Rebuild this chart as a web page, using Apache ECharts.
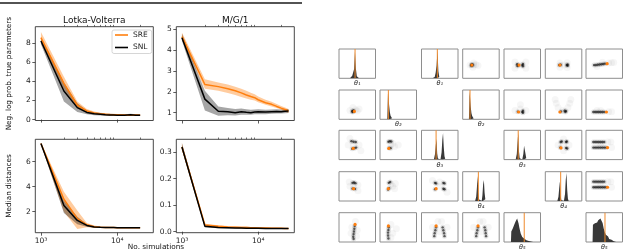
<!DOCTYPE html>
<html><head><meta charset="utf-8">
<script src="https://cdn.jsdelivr.net/npm/echarts@6/dist/echarts.min.js"></script>
<style>html,body{margin:0;padding:0;background:#fff}#c{width:640px;height:252px}</style>
</head><body><div id="c"></div>
<script>
// ---------------- DATA: line panels ----------------
const simsLV = [1000,2000,3000,4000,5000,6000,7000,8000,9000,10000,12500,15000,17500,20000];
const simsMG1 = [1000,2000,3000,4000,5000,6000,7000,8000,9000,10000,12500,15000,17500,20000,22500,25000];

const lvNlpSRE   = [8.6,3.8,1.5,0.9,0.7,0.6,0.55,0.52,0.5,0.5,0.48,0.45,0.48,0.45];
const lvNlpSRElo = [8.1,3.2,1.2,0.72,0.58,0.5,0.45,0.43,0.42,0.42,0.4,0.38,0.4,0.38];
const lvNlpSREhi = [9.2,4.5,1.9,1.1,0.85,0.72,0.65,0.62,0.6,0.58,0.56,0.53,0.56,0.52];
const lvNlpSNL   = [8.25,3.0,1.25,0.75,0.6,0.55,0.5,0.48,0.47,0.45,0.45,0.5,0.45,0.45];
const lvNlpSNLlo = [7.9,1.9,0.8,0.55,0.45,0.42,0.4,0.38,0.38,0.37,0.36,0.38,0.37,0.36];
const lvNlpSNLhi = [8.6,3.9,1.7,0.95,0.75,0.68,0.62,0.6,0.58,0.56,0.56,0.6,0.56,0.55];

const mgNlpSRE   = [4.65,2.35,2.25,2.15,2.05,1.95,1.85,1.78,1.72,1.62,1.48,1.4,1.3,1.22,1.15,1.08];
const mgNlpSRElo = [4.5,2.15,2.05,1.95,1.85,1.75,1.68,1.62,1.58,1.5,1.38,1.3,1.22,1.14,1.05,0.98];
const mgNlpSREhi = [4.85,2.6,2.45,2.35,2.25,2.15,2.05,1.96,1.88,1.78,1.62,1.52,1.42,1.32,1.25,1.18];
const mgNlpSNL   = [4.6,1.65,1.07,1.05,1.0,1.05,1.02,1.0,1.03,1.05,1.03,1.05,1.06,1.05,1.07,1.08];
const mgNlpSNLlo = [4.45,1.1,0.85,0.88,0.86,0.9,0.9,0.9,0.92,0.93,0.93,0.95,0.96,0.96,0.97,0.98];
const mgNlpSNLhi = [4.8,2.05,1.3,1.22,1.18,1.2,1.16,1.14,1.15,1.16,1.14,1.15,1.16,1.15,1.17,1.18];

const lvMedSRE   = [7.45,3.0,1.45,0.95,0.8,0.76,0.74,0.73,0.73,0.72,0.72,0.72,0.72,0.72];
const lvMedSRElo = [7.4,2.0,0.62,0.75,0.72,0.7,0.7,0.69,0.69,0.69,0.69,0.69,0.69,0.69];
const lvMedSREhi = [7.5,3.6,2.1,1.1,0.9,0.82,0.8,0.78,0.77,0.76,0.76,0.75,0.75,0.75];
const lvMedSNL   = [7.45,2.5,1.3,0.9,0.78,0.75,0.74,0.73,0.73,0.72,0.72,0.72,0.72,0.72];
const lvMedSNLlo = [7.4,1.9,1.0,0.8,0.72,0.7,0.7,0.69,0.69,0.69,0.69,0.69,0.69,0.69];
const lvMedSNLhi = [7.5,2.9,1.6,1.0,0.85,0.8,0.78,0.77,0.76,0.75,0.75,0.75,0.75,0.75];

const mgMedSRE   = [0.32,0.025,0.02,0.018,0.017,0.016,0.016,0.015,0.015,0.014,0.014,0.013,0.013,0.013,0.012,0.012];
const mgMedSRElo = [0.31,0.02,0.016,0.015,0.014,0.013,0.013,0.012,0.012,0.011,0.011,0.011,0.011,0.011,0.01,0.01];
const mgMedSREhi = [0.335,0.03,0.024,0.021,0.02,0.019,0.019,0.018,0.018,0.017,0.017,0.016,0.016,0.015,0.014,0.014];
const mgMedSNL   = [0.32,0.02,0.016,0.015,0.014,0.014,0.013,0.013,0.013,0.013,0.012,0.012,0.012,0.012,0.012,0.012];
const mgMedSNLlo = [0.31,0.016,0.013,0.012,0.012,0.011,0.011,0.011,0.011,0.011,0.01,0.01,0.01,0.01,0.01,0.01];
const mgMedSNLhi = [0.335,0.026,0.02,0.018,0.017,0.016,0.016,0.015,0.015,0.015,0.014,0.014,0.014,0.014,0.014,0.014];

const xMajorTicks = [1000,10000];
const xMinorTicks = [2000,3000,4000,5000,6000,7000,8000,9000,20000];
const lvNlpTicks = [0,2,4,6,8];
const mgNlpTicks = [1,2,3,4,5];
const lvMedTicks = [2,4,6];
const mgMedTicks = [0.0,0.1,0.2,0.3];

// ---------------- DATA: posterior matrices (normalised 0..1 coords) ----------------
const histA1 = [[0.3,0],[0.325,0.03],[0.35,0.05],[0.375,0.09],[0.4,0.16],[0.425,0.32],[0.45,0.95],[0.475,0.35],[0.5,0.07],[0.525,0.02],[0.55,0]];
const histB1 = [[0.3,0],[0.325,0.02],[0.35,0.05],[0.375,0.1],[0.4,0.2],[0.425,0.45],[0.45,1.0],[0.475,0.25],[0.5,0.05],[0.525,0]];
const histA2 = [[0.2,0],[0.24,1.0],[0.26,0.5],[0.28,0.25],[0.3,0.13],[0.32,0.07],[0.34,0.04],[0.36,0.02],[0.38,0]];
const histB2 = [[0.17,0],[0.21,1.0],[0.23,0.45],[0.25,0.22],[0.27,0.12],[0.29,0.06],[0.31,0.03],[0.33,0]];
const histA3 = [[0.34,0],[0.36,0.05],[0.38,0.2],[0.4,0.5],[0.42,0.75],[0.44,0.22],[0.46,0.04],[0.48,0],[0.52,0],[0.54,0.05],[0.56,0.25],[0.58,0.7],[0.6,0.95],[0.62,0.45],[0.64,0.12],[0.66,0.03],[0.68,0]];
const histB3 = [[0.32,0],[0.34,0.05],[0.36,0.2],[0.38,0.6],[0.4,0.95],[0.42,0.3],[0.44,0.05],[0.46,0],[0.5,0],[0.52,0.05],[0.54,0.2],[0.56,0.5],[0.58,0.55],[0.6,0.2],[0.62,0.05],[0.64,0]];
const histA4 = [[0.34,0],[0.36,0.04],[0.38,0.15],[0.4,0.5],[0.42,0.9],[0.44,0.3],[0.46,0.05],[0.48,0],[0.51,0],[0.53,0.05],[0.55,0.2],[0.57,0.6],[0.59,0.75],[0.61,0.3],[0.63,0.06],[0.65,0]];
const histB4 = [[0.33,0],[0.35,0.04],[0.37,0.15],[0.39,0.45],[0.41,0.7],[0.43,0.2],[0.45,0.03],[0.47,0],[0.51,0],[0.53,0.05],[0.55,0.25],[0.57,0.75],[0.59,1.0],[0.61,0.4],[0.63,0.08],[0.65,0]];
const histA5 = [[0.19,0],[0.21,0.38],[0.23,0.42],[0.25,0.48],[0.27,0.55],[0.29,0.62],[0.31,0.68],[0.33,0.74],[0.35,0.8],[0.37,0.84],[0.39,0.78],[0.41,0.66],[0.43,0.52],[0.45,0.4],[0.47,0.3],[0.49,0.23],[0.51,0.18],[0.53,0.15],[0.55,0.12],[0.57,0.1],[0.6,0.08],[0.63,0.06],[0.66,0.04],[0.7,0.03],[0.74,0.015],[0.8,0]];
const histB5 = [[0.18,0],[0.2,0.62],[0.23,0.64],[0.26,0.67],[0.29,0.7],[0.32,0.74],[0.35,0.78],[0.38,0.8],[0.41,0.84],[0.44,0.82],[0.47,0.68],[0.5,0.48],[0.53,0.35],[0.56,0.26],[0.59,0.2],[0.62,0.15],[0.65,0.11],[0.68,0.08],[0.72,0.05],[0.76,0.03],[0.8,0.015],[0.85,0]];
const trueA = [0.44,0.23,0.40,0.43,0.555];
const trueB = [0.435,0.20,0.39,0.42,0.52];
const thetaLabels = ['θ₁','θ₂','θ₃','θ₄','θ₅'];

// pair clouds: dark = dense samples, fog = sparse samples, tru = true parameter
const pairR_12_dark=[[0.24,0.46],[0.26,0.44],[0.23,0.44],[0.27,0.47]];
const pairR_12_fog=[[0.3,0.45],[0.36,0.47],[0.42,0.44],[0.3,0.52],[0.28,0.38],[0.2,0.45]];
const pairR_12_tru=[0.25,0.45];
const pairR_13_dark=[[0.36,0.48],[0.37,0.42],[0.39,0.45],[0.5,0.45],[0.52,0.49],[0.52,0.41]];
const pairR_13_fog=[[0.3,0.56],[0.3,0.34],[0.6,0.56],[0.6,0.34],[0.45,0.45]];
const pairR_13_tru=[0.41,0.45];
const pairR_14_dark=[[0.38,0.45],[0.42,0.46],[0.59,0.45],[0.61,0.47],[0.61,0.43]];
const pairR_14_fog=[[0.4,0.52],[0.6,0.53],[0.5,0.45],[0.6,0.37],[0.4,0.38]];
const pairR_14_tru=[0.40,0.45];
const pairR_15_dark=[[0.22,0.45],[0.27,0.45],[0.32,0.46],[0.37,0.47],[0.42,0.48],[0.47,0.49],[0.52,0.5]];
const pairR_15_fog=[[0.62,0.52],[0.7,0.53],[0.76,0.54],[0.3,0.4],[0.45,0.55]];
const pairR_15_tru=[0.58,0.5];
const pairL_21_dark=[[0.36,0.28],[0.39,0.27],[0.4,0.3],[0.37,0.25]];
const pairL_21_fog=[[0.45,0.33],[0.3,0.3],[0.5,0.28],[0.38,0.4],[0.55,0.35]];
const pairL_21_tru=[0.42,0.27];
const pairR_23_dark=[[0.38,0.26],[0.5,0.25],[0.52,0.29],[0.52,0.22]];
const pairR_23_fog=[[0.45,0.35],[0.6,0.3],[0.3,0.3],[0.45,0.5]];
const pairR_23_tru=[0.4,0.25];
const pairR_24_dark=[[0.43,0.27],[0.55,0.25],[0.53,0.29],[0.57,0.28]];
const pairR_24_fog=[[0.35,0.4],[0.3,0.55],[0.62,0.4],[0.67,0.55],[0.48,0.3],[0.27,0.68],[0.7,0.68]];
const pairR_24_tru=[0.4,0.25];
const pairR_25_dark=[[0.2,0.25],[0.25,0.25],[0.3,0.25],[0.35,0.25],[0.4,0.25],[0.45,0.25],[0.5,0.25]];
const pairR_25_fog=[[0.62,0.26],[0.7,0.26],[0.4,0.3],[0.3,0.3]];
const pairR_25_tru=[0.56,0.25];
const pairL_31_dark=[[0.34,0.63],[0.4,0.61],[0.46,0.6],[0.36,0.37],[0.42,0.39],[0.47,0.41]];
const pairL_31_fog=[[0.25,0.5],[0.55,0.5],[0.3,0.72],[0.6,0.3],[0.4,0.5]];
const pairL_31_tru=[0.39,0.38];
const pairL_32_dark=[[0.23,0.61],[0.27,0.63],[0.31,0.62],[0.25,0.4],[0.29,0.39]];
const pairL_32_fog=[[0.35,0.55],[0.4,0.45],[0.5,0.5],[0.3,0.5]];
const pairL_32_tru=[0.24,0.38];
const pairR_34_dark=[[0.42,0.6],[0.45,0.62],[0.57,0.6],[0.59,0.62],[0.57,0.4],[0.6,0.38],[0.41,0.41]];
const pairR_34_fog=[[0.5,0.5],[0.35,0.5],[0.65,0.5],[0.5,0.7],[0.5,0.3]];
const pairR_34_tru=[0.43,0.4];
const pairR_35_dark=[[0.2,0.6],[0.25,0.6],[0.3,0.6],[0.35,0.6],[0.4,0.6],[0.45,0.6],[0.5,0.6],[0.2,0.41],[0.25,0.41],[0.3,0.41],[0.35,0.41],[0.4,0.41],[0.45,0.41],[0.5,0.41],[0.55,0.41]];
const pairR_35_fog=[[0.6,0.6],[0.68,0.6],[0.7,0.41],[0.4,0.5]];
const pairR_35_tru=[0.59,0.41];
const pairL_41_dark=[[0.37,0.62],[0.41,0.63],[0.45,0.61],[0.37,0.42],[0.44,0.41]];
const pairL_41_fog=[[0.4,0.52],[0.3,0.5],[0.52,0.55],[0.28,0.65],[0.52,0.35]];
const pairL_41_tru=[0.4,0.42];
const pairL_42_dark=[[0.24,0.62],[0.28,0.65],[0.25,0.44],[0.22,0.39]];
const pairL_42_fog=[[0.35,0.5],[0.3,0.58],[0.42,0.6],[0.4,0.42]];
const pairL_42_tru=[0.23,0.42];
const pairL_43_dark=[[0.37,0.62],[0.4,0.6],[0.6,0.62],[0.63,0.6],[0.37,0.4],[0.6,0.42],[0.63,0.4]];
const pairL_43_fog=[[0.5,0.5],[0.3,0.7],[0.7,0.3],[0.5,0.65]];
const pairL_43_tru=[0.4,0.42];
const pairR_45_dark=[[0.2,0.66],[0.25,0.66],[0.3,0.66],[0.35,0.66],[0.4,0.66],[0.45,0.66],[0.5,0.66],[0.2,0.47],[0.25,0.47],[0.3,0.47],[0.35,0.47],[0.4,0.47],[0.45,0.47],[0.5,0.47],[0.55,0.47]];
const pairR_45_fog=[[0.6,0.66],[0.68,0.66],[0.7,0.47],[0.4,0.56]];
const pairR_45_tru=[0.59,0.47];
const pairL_51_dark=[[0.43,0.55],[0.42,0.45],[0.41,0.36],[0.4,0.27],[0.39,0.18],[0.4,0.1]];
const pairL_51_fog=[[0.45,0.7],[0.5,0.4],[0.33,0.3],[0.48,0.2],[0.35,0.5]];
const pairL_51_tru=[0.44,0.6];
const pairL_52_dark=[[0.24,0.5],[0.23,0.41],[0.22,0.32],[0.22,0.22],[0.23,0.12]];
const pairL_52_fog=[[0.3,0.6],[0.35,0.3],[0.45,0.45],[0.3,0.15]];
const pairL_52_tru=[0.23,0.55];
const pairL_53_dark=[[0.4,0.5],[0.38,0.4],[0.36,0.3],[0.35,0.2],[0.58,0.5],[0.6,0.4],[0.62,0.3],[0.63,0.2]];
const pairL_53_fog=[[0.3,0.5],[0.7,0.5],[0.5,0.35],[0.45,0.7],[0.55,0.7]];
const pairL_53_tru=[0.4,0.55];
const pairL_54_dark=[[0.42,0.5],[0.4,0.4],[0.38,0.3],[0.37,0.2],[0.6,0.5],[0.62,0.4],[0.63,0.3],[0.64,0.2]];
const pairL_54_fog=[[0.3,0.5],[0.7,0.5],[0.5,0.35],[0.47,0.7],[0.56,0.7]];
const pairL_54_tru=[0.42,0.55];

// ---------------- BUILD ----------------
const FONT = 'DejaVu Sans';
const ORANGE = '#ff7f0e';
const grids=[], xAxes=[], yAxes=[], series=[], graphics=[];
const X_MIN = 2.926, X_MAX = 4.474;
const L = v => Math.log10(v);

function bandSeries(xi, yi, lx, lo, hi, color, z){
  return {type:'custom', xAxisIndex:xi, yAxisIndex:yi, silent:true, animation:false, z:z, clip:true,
    data: lx.map((x,i)=>[x, lo[i], hi[i]]),
    encode:{x:0, y:[1,2]},
    renderItem:(params, api)=>{
      if (params.dataIndex !== 0) return null;
      const up = lx.map((x,i)=>api.coord([x, hi[i]]));
      const dn = lx.map((x,i)=>api.coord([x, lo[i]])).reverse();
      return {type:'polygon', shape:{points:up.concat(dn)}, style:{fill:color}};
    }};
}

function linePanel(box, xs, sre, sreLo, sreHi, snl, snlLo, snlHi, yMin, yMax, yTicks, showXLabels, yFmt){
  const gi = grids.length;
  grids.push({left:box[0], top:box[1], width:box[2], height:box[3], show:true, borderColor:'#333', borderWidth:0.9});
  const xi = xAxes.length;
  xAxes.push({gridIndex:gi, type:'value', min:X_MIN, max:X_MAX, axisLine:{show:false}, splitLine:{show:false},
    axisTick:{show:true, length:3, customValues:xMajorTicks.map(L), lineStyle:{color:'#333', width:0.8}},
    axisLabel:{show:showXLabels, customValues:xMajorTicks.map(L), formatter:v=>(Math.abs(v-3)<1e-6?'10³':'10⁴'),
      fontSize:7.5, color:'#222', margin:4, fontFamily:FONT}});
  xAxes.push({gridIndex:gi, type:'value', min:X_MIN, max:X_MAX, axisLine:{show:false}, splitLine:{show:false},
    axisLabel:{show:false}, axisTick:{show:true, length:1.8, customValues:xMinorTicks.map(L), lineStyle:{color:'#333', width:0.7}}});
  const yi = yAxes.length;
  yAxes.push({gridIndex:gi, type:'value', min:yMin, max:yMax, axisLine:{show:false}, splitLine:{show:false},
    axisTick:{show:true, length:3, customValues:yTicks, lineStyle:{color:'#333', width:0.8}},
    axisLabel:{customValues:yTicks, formatter:yFmt, fontSize:7.5, color:'#222', margin:4.5, fontFamily:FONT}});
  const lx = xs.map(L);
  const pts = a => a.map((v,i)=>[lx[i], v]);
  series.push(bandSeries(xi, yi, lx, sreLo, sreHi, 'rgba(255,127,14,0.4)', 1));
  series.push(bandSeries(xi, yi, lx, snlLo, snlHi, 'rgba(0,0,0,0.35)', 2));
  const common = {type:'line', xAxisIndex:xi, yAxisIndex:yi, symbol:'none', silent:true, animation:false};
  series.push(Object.assign({}, common, {name:'SRE', data:pts(sre), lineStyle:{color:ORANGE, width:1.5}, itemStyle:{color:ORANGE}, z:3}));
  series.push(Object.assign({}, common, {name:'SNL', data:pts(snl), lineStyle:{color:'#000', width:1.5}, itemStyle:{color:'#000'}, z:4}));
}

const fmtInt = v => String(Math.round(v));
const fmt1 = v => v.toFixed(1);
linePanel([35.3,26.7,118,93.8], simsLV, lvNlpSRE,lvNlpSRElo,lvNlpSREhi, lvNlpSNL,lvNlpSNLlo,lvNlpSNLhi, -0.1, 9.75, lvNlpTicks, false, fmtInt);
linePanel([176.3,26.7,118,93.8], simsMG1, mgNlpSRE,mgNlpSRElo,mgNlpSREhi, mgNlpSNL,mgNlpSNLlo,mgNlpSNLhi, 0.625, 5.125, mgNlpTicks, false, fmtInt);
linePanel([35.3,139.3,118,93.4], simsLV, lvMedSRE,lvMedSRElo,lvMedSREhi, lvMedSNL,lvMedSNLlo,lvMedSNLhi, 0.32, 7.79, lvMedTicks, true, fmtInt);
linePanel([176.3,139.3,118,93.4], simsMG1, mgMedSRE,mgMedSRElo,mgMedSREhi, mgMedSNL,mgMedSNLlo,mgMedSNLhi, -0.004, 0.349, mgMedTicks, true, fmt1);

// small cells
const COLX=[339,380,421.5,462.7,504,545.3,586], ROWY=[49,90,130.3,171.7,212.7], CW=36.5, CH=29.3;
function cell(r,c,ymax){
  const gi = grids.length;
  grids.push({left:COLX[c], top:ROWY[r-1], width:CW, height:CH, show:true, borderColor:'#8e8e8e', borderWidth:1});
  xAxes.push({gridIndex:gi, type:'value', min:0, max:1, show:false});
  yAxes.push({gridIndex:gi, type:'value', min:0, max:ymax, show:false});
  return {xi:xAxes.length-1, yi:yAxes.length-1};
}
function histCell(r,c,bins,truth,label){
  const a = cell(r,c,1.05);
  series.push({type:'line', xAxisIndex:a.xi, yAxisIndex:a.yi, data:bins, step:'middle', symbol:'none', silent:true,
    lineStyle:{width:0, opacity:0}, areaStyle:{color:'#383838', opacity:1}, z:2, animation:false});
  series.push({type:'line', xAxisIndex:a.xi, yAxisIndex:a.yi, data:[[truth,0],[truth,1.05]], symbol:'none', silent:true,
    lineStyle:{color:'#f08a2a', width:1.1, opacity:0.9}, z:3, animation:false});
  graphics.push({type:'text', x:COLX[c]+CW/2, y:ROWY[r-1]+CH+5.5, silent:true,
    style:{text:label, fontSize:6.5, fontStyle:'italic', fontFamily:FONT, fill:'#222', textAlign:'center', textVerticalAlign:'middle'}});
}
function pairCell(r,c,dark,fog,tru){
  const a = cell(r,c,1);
  const base = {type:'scatter', xAxisIndex:a.xi, yAxisIndex:a.yi, silent:true, animation:false};
  series.push(Object.assign({}, base, {data:fog, symbolSize:7, itemStyle:{color:'#000', opacity:0.035}, z:2}));
  series.push(Object.assign({}, base, {data:dark, symbolSize:5, itemStyle:{color:'#000', opacity:0.1}, z:2}));
  series.push(Object.assign({}, base, {data:dark, symbolSize:2.4, itemStyle:{color:'#000', opacity:0.6}, z:3}));
  series.push(Object.assign({}, base, {data:[tru], symbolSize:3.2, itemStyle:{color:ORANGE, opacity:1}, z:4}));
}

// left matrix (lower triangle, cols 0-4)
histCell(1,0,histA1,trueA[0],thetaLabels[0]);
histCell(2,1,histA2,trueA[1],thetaLabels[1]);
histCell(3,2,histA3,trueA[2],thetaLabels[2]);
histCell(4,3,histA4,trueA[3],thetaLabels[3]);
histCell(5,4,histA5,trueA[4],thetaLabels[4]);
pairCell(2,0,pairL_21_dark,pairL_21_fog,pairL_21_tru);
pairCell(3,0,pairL_31_dark,pairL_31_fog,pairL_31_tru);
pairCell(3,1,pairL_32_dark,pairL_32_fog,pairL_32_tru);
pairCell(4,0,pairL_41_dark,pairL_41_fog,pairL_41_tru);
pairCell(4,1,pairL_42_dark,pairL_42_fog,pairL_42_tru);
pairCell(4,2,pairL_43_dark,pairL_43_fog,pairL_43_tru);
pairCell(5,0,pairL_51_dark,pairL_51_fog,pairL_51_tru);
pairCell(5,1,pairL_52_dark,pairL_52_fog,pairL_52_tru);
pairCell(5,2,pairL_53_dark,pairL_53_fog,pairL_53_tru);
pairCell(5,3,pairL_54_dark,pairL_54_fog,pairL_54_tru);
// right matrix (upper triangle, cols 2-6)
histCell(1,2,histB1,trueB[0],thetaLabels[0]);
histCell(2,3,histB2,trueB[1],thetaLabels[1]);
histCell(3,4,histB3,trueB[2],thetaLabels[2]);
histCell(4,5,histB4,trueB[3],thetaLabels[3]);
histCell(5,6,histB5,trueB[4],thetaLabels[4]);
pairCell(1,3,pairR_12_dark,pairR_12_fog,pairR_12_tru);
pairCell(1,4,pairR_13_dark,pairR_13_fog,pairR_13_tru);
pairCell(1,5,pairR_14_dark,pairR_14_fog,pairR_14_tru);
pairCell(1,6,pairR_15_dark,pairR_15_fog,pairR_15_tru);
pairCell(2,4,pairR_23_dark,pairR_23_fog,pairR_23_tru);
pairCell(2,5,pairR_24_dark,pairR_24_fog,pairR_24_tru);
pairCell(2,6,pairR_25_dark,pairR_25_fog,pairR_25_tru);
pairCell(3,5,pairR_34_dark,pairR_34_fog,pairR_34_tru);
pairCell(3,6,pairR_35_dark,pairR_35_fog,pairR_35_tru);
pairCell(4,6,pairR_45_dark,pairR_45_fog,pairR_45_tru);

// texts
const txt = (x,y,text,size,extra) => Object.assign({type:'text', x:x, y:y, silent:true,
  style:{text:text, fontSize:size, fontFamily:FONT, fill:'#111', textAlign:'center', textVerticalAlign:'middle'}}, extra||{});
graphics.push({type:'line', silent:true, shape:{x1:0,y1:3,x2:302,y2:3}, style:{stroke:'#1a1a1a', lineWidth:1.6}});
graphics.push(txt(94.3,20.5,'Lotka-Volterra',9));
graphics.push(txt(235.3,20.5,'M/G/1',9));
graphics.push(txt(9.5,73.6,'Neg. log prob. true parameters',7.3,{rotation:Math.PI/2}));
graphics.push(txt(9.5,186,'Median distances',7.3,{rotation:Math.PI/2}));
graphics.push(txt(156,247,'No. simulations',7.3));

const chart = echarts.init(document.getElementById('c'), null, {renderer:'canvas'});
chart.setOption({
  animation:false,
  backgroundColor:'#fff',
  textStyle:{fontFamily:FONT},
  grid:grids, xAxis:xAxes, yAxis:yAxes, series:series,
  legend:{data:['SRE','SNL'], left:112, top:30, orient:'vertical', icon:'rect', itemWidth:13, itemHeight:1.6,
    itemGap:4.5, itemTextGap:5, padding:[1,4,2,3], borderColor:'#ccc', borderWidth:0.8, borderRadius:2,
    backgroundColor:'rgba(255,255,255,0.85)', selectedMode:false,
    textStyle:{fontSize:7.5, color:'#222', fontFamily:FONT}},
  graphic:graphics
});
</script>
</body></html>
